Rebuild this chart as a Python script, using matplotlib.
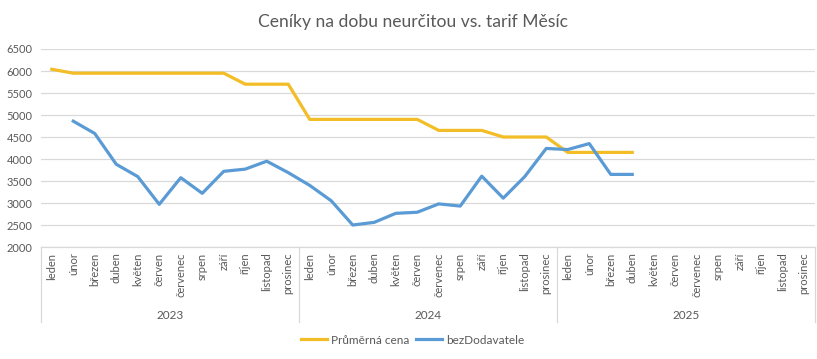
import matplotlib.pyplot as plt
import numpy as np
from matplotlib.lines import Line2D
import matplotlib.transforms as mtransforms

plt.rcParams['font.family'] = ['Lato', 'DejaVu Sans']

months = ["leden", "únor", "březen", "duben", "květen", "červen", "červenec",
          "srpen", "září", "říjen", "listopad", "prosinec"]
years = ["2023", "2024", "2025"]

prumerna_cena = [6040, 5950, 5950, 5950, 5950, 5950, 5950, 5950, 5950, 5700, 5700, 5700,
                 4900, 4900, 4900, 4900, 4900, 4900, 4650, 4650, 4650, 4500, 4500, 4500,
                 4150, 4150, 4150, 4150, None, None, None, None, None, None, None, None]
bez_dodavatele = [None, 4860, 4580, 3880, 3600, 2970, 3575, 3220, 3720, 3770, 3950, 3690,
                  3400, 3050, 2500, 2560, 2765, 2790, 2980, 2930, 3610, 3110, 3600, 4240,
                  4215, 4350, 3650, 3650, None, None, None, None, None, None, None, None]

y1 = np.array(prumerna_cena, dtype=float)
y2 = np.array(bez_dodavatele, dtype=float)
x = np.arange(len(months) * len(years))

fig = plt.figure(figsize=(8.17, 3.59), dpi=100)
ax = fig.add_axes([41 / 817, 1 - 247 / 359, 774 / 817, 198 / 359])

gray = "#595959"
ax.plot(x, y1, color="#F2BD26", lw=2.3, label="Průměrná cena", solid_joinstyle="round")
ax.plot(x, y2, color="#5B9BD5", lw=2.3, label="bezDodavatele", solid_joinstyle="round")

ax.set_xlim(-0.5, 35.5)
ax.set_ylim(2000, 6500)
ax.set_yticks(range(2000, 6501, 500))
ax.grid(axis="y", color="#D9D9D9", lw=0.9)
ax.set_axisbelow(True)
for s in ["top", "right", "left"]:
    ax.spines[s].set_visible(False)
ax.spines["bottom"].set_color("#D9D9D9")
ax.spines["bottom"].set_linewidth(0.9)

ax.set_xticks(x)
ax.set_xticklabels(months * len(years), rotation=90, fontsize=8, color=gray, va="top")
ax.tick_params(axis="x", length=0, pad=4)
ax.tick_params(axis="y", length=0, pad=6, labelsize=8, labelcolor=gray)

trans = mtransforms.blended_transform_factory(ax.transData, ax.transAxes)
for i, yr in enumerate(years):
    ax.text(i * 12 + 5.5, -0.345, yr, transform=trans, ha="center", va="center",
            fontsize=8.5, color=gray)
for b in [-0.5, 11.5, 23.5, 35.5]:
    ax.add_line(Line2D([b, b], [0, -0.38], transform=trans, color="#D9D9D9",
                       lw=0.9, clip_on=False))

fig.text(0.506, 1 - 22 / 359, "Ceníky na dobu neurčitou vs. tarif Měsíc",
         ha="center", va="center", fontsize=12.6, color=gray)

fig.legend(loc="center", bbox_to_anchor=(0.505, 1 - 340 / 359), ncol=2, frameon=False,
           fontsize=8.5, labelcolor=gray, handlelength=2.2, handletextpad=0.3,
           columnspacing=0.6)

fig.savefig("out.png", dpi=100)
